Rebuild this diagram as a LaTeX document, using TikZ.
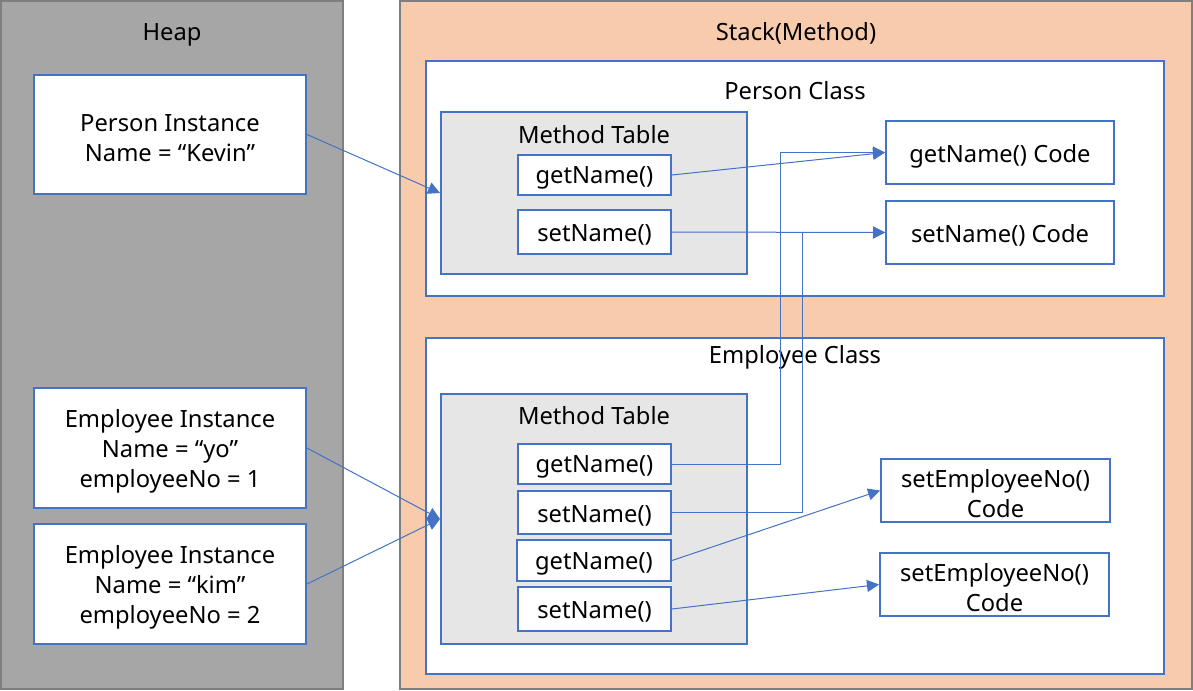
\documentclass[tikz,border=0pt]{standalone}
\usepackage{fontspec}
\setmainfont{Noto Sans}
\usetikzlibrary{arrows.meta,fit,positioning}
\definecolor{bblue}{HTML}{4472C4}
\definecolor{heapgray}{HTML}{A6A6A6}
\definecolor{panelborder}{HTML}{7F7F7F}
\definecolor{peach}{HTML}{F8CBAD}
\definecolor{tablegray}{HTML}{E7E6E6}
\tikzset{
  panel/.style={draw=panelborder, line width=1.5pt},
  box/.style={draw=bblue, line width=1.5pt, fill=white, inner sep=0pt},
  tbox/.style={draw=bblue, line width=1.5pt, fill=tablegray, inner sep=0pt},
  lbl/.style={inner sep=0pt, align=center, yshift=-2.5pt},
  txt/.style={label={[lbl]center:{#1}}},
  conn/.style={draw=bblue, line width=0.75pt, -{Triangle[length=9pt,width=9pt]}},
}
\begin{document}
\begin{tikzpicture}[x=0.75pt,y=-0.75pt, font=\fontsize{17.8}{22.5}\selectfont]
\useasboundingbox (0,0) rectangle (1193,690);
% panels
\node[panel, fill=heapgray, fit={(1,1)(343,689)}, inner sep=0pt] (heap) {};
\node[panel, fill=peach, fit={(400,1)(1192,689)}, inner sep=0pt] (stack) {};
\node[lbl] (heapt) at (172,32) {Heap};
\node[lbl] (stackt) at (796,30) {Stack(Method)};
% heap instances
\node[box, fit={(34,75)(306,194)}, txt={Person Instance\\Name = “Kevin”}] (pi) {};
\node[box, fit={(34,388)(306,508)}, txt={Employee Instance\\Name = “yo”\\employeeNo = 1}] (ei1) {};
\node[box, fit={(34,524)(306,644)}, txt={Employee Instance\\Name = “kim”\\employeeNo = 2}] (ei2) {};
% Person class
\node[box, fit={(426,61)(1164,296)}] (pc) {};
\node[lbl] (pct) at (795,87) {Person Class};
\node[tbox, fit={(441,112)(747,274)}] (mt1) {};
\node[lbl] (mt1t) at (594,131) {Method Table};
\node[box, fit={(518,155)(671,195)}, txt={getName()}] (gn1) {};
\node[box, fit={(518,210)(671,254)}, txt={setName()}] (sn1) {};
\node[box, fit={(886,121)(1114,184)}, txt={getName() Code}] (gnc) {};
\node[box, fit={(886,201)(1114,264)}, txt={setName() Code}] (snc) {};
% Employee class
\node[box, fit={(426,338)(1164,674)}] (ec) {};
\node[lbl] (ect) at (795,354) {Employee Class};
\node[tbox, fit={(441,394)(747,644)}] (mt2) {};
\node[lbl] (mt2t) at (594,412) {Method Table};
\node[box, fit={(518,444)(671,484)}, txt={getName()}] (gn2) {};
\node[box, fit={(518,491)(671,534)}, txt={setName()}] (sn2) {};
\node[box, fit={(517,540)(671,581)}, txt={getName()}] (gn3) {};
\node[box, fit={(518,587)(671,631)}, txt={setName()}] (sn3) {};
\node[box, fit={(881,459)(1110,522)}, txt={setEmployeeNo()\\Code}] (sec1) {};
\node[box, fit={(880,553)(1109,616)}, txt={setEmployeeNo()\\Code}] (sec2) {};
% connectors
\draw[conn] (pi.east) -- (mt1.west);
\draw[conn] (ei1.east) -- (mt2.west);
\draw[conn] (ei2.east) -- (mt2.west);
\draw[conn] (gn1.east) -- (gnc.west);
\draw[conn] (sn1.east) -- (snc.west);
\draw[conn] (gn2.east) -- ++(108,0) |- (gnc.west);
\draw[conn] (sn2.east) -- ++(130,0) |- (snc.west);
\draw[conn] (gn3.east) -- (sec1.west);
\draw[conn] (sn3.east) -- (sec2.west);
\end{tikzpicture}
\end{document}
